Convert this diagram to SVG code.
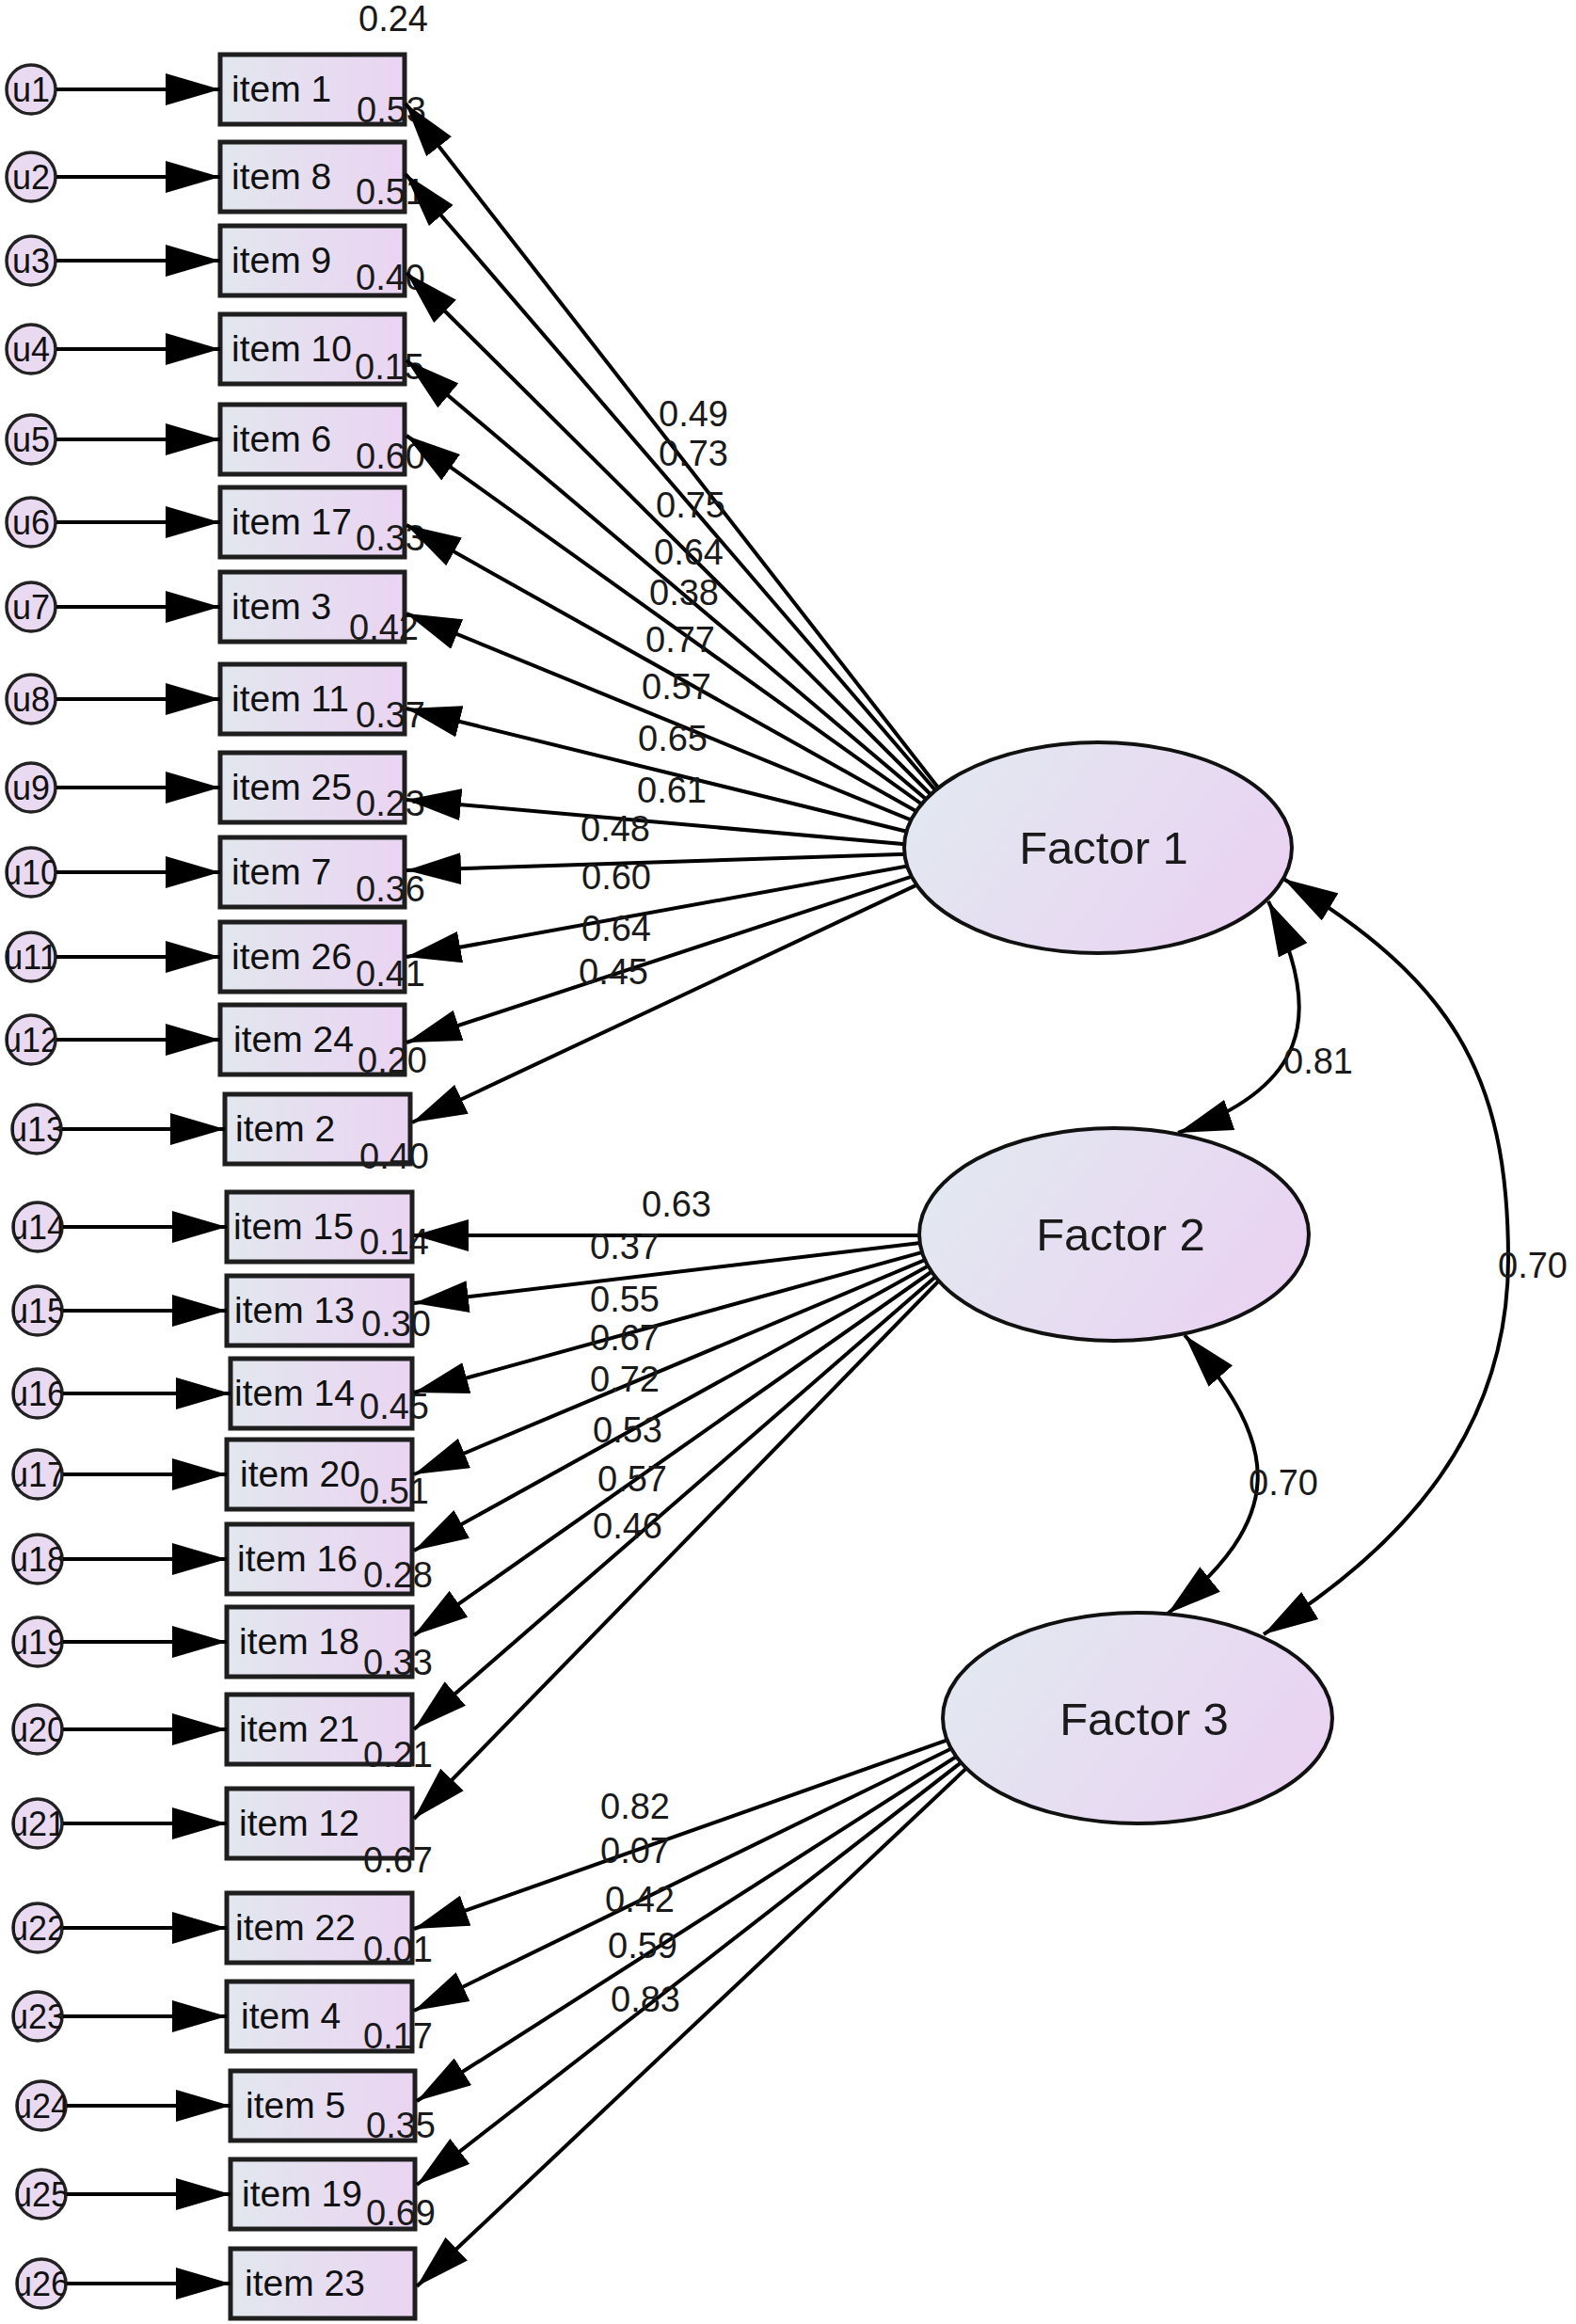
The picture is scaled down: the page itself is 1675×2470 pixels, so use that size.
<svg xmlns="http://www.w3.org/2000/svg" width="1675" height="2470" viewBox="0 0 1675 2470">
<style>
.bx{fill:url(#gbox);stroke:#1e1e1e;stroke-width:5}
.uc{fill:#e9d9f1;stroke:#222;stroke-width:3.5}
.fe{fill:url(#gell);stroke:#111;stroke-width:4}
.it{font-family:"Liberation Sans",Arial,sans-serif;font-size:39px;fill:#111}
.ut{font-family:"Liberation Sans",Arial,sans-serif;font-size:36px;fill:#111;text-anchor:middle}
.ft{font-family:"Liberation Sans",Arial,sans-serif;font-size:49px;fill:#1a1a1a;text-anchor:middle}
.lb{font-family:"Liberation Sans",Arial,sans-serif;font-size:38px;fill:#1a1a1a}
.cn line,.cn path{stroke:#000;stroke-width:4;fill:none;marker-end:url(#ah)}
.cn path.dbl{marker-start:url(#ah)}
</style>
<defs>
<linearGradient id="gbox" x1="0" y1="0" x2="1" y2="0"><stop offset="0" stop-color="#e2e7ee"/><stop offset="1" stop-color="#ead4f2"/></linearGradient>
<linearGradient id="gell" x1="0" y1="0.3" x2="1" y2="0.7"><stop offset="0" stop-color="#e2e8f0"/><stop offset="1" stop-color="#ead2f2"/></linearGradient>
<clipPath id="uclip"><circle cx="0" cy="0" r="26"/></clipPath>
<marker id="ah" viewBox="0 0 58 34" refX="58" refY="17" markerWidth="58" markerHeight="34" markerUnits="userSpaceOnUse" orient="auto-start-reverse"><path d="M0,0 L58,17 L0,34 z" fill="#000"/></marker>
</defs>
<rect width="1675" height="2470" fill="#fff"/>

<g id="items">
<g id="item1"><rect class="bx" x="234" y="58" width="196" height="74"/><text class="it" x="246" y="108">item 1</text></g>
<g id="item8"><rect class="bx" x="234" y="151" width="196" height="74"/><text class="it" x="246" y="201">item 8</text></g>
<g id="item9"><rect class="bx" x="234" y="240" width="196" height="74"/><text class="it" x="246" y="290">item 9</text></g>
<g id="item10"><rect class="bx" x="234" y="334" width="196" height="74"/><text class="it" x="246" y="384">item 10</text></g>
<g id="item6"><rect class="bx" x="234" y="430" width="196" height="74"/><text class="it" x="246" y="480">item 6</text></g>
<g id="item17"><rect class="bx" x="234" y="518" width="196" height="74"/><text class="it" x="246" y="568">item 17</text></g>
<g id="item3"><rect class="bx" x="234" y="608" width="196" height="74"/><text class="it" x="246" y="658">item 3</text></g>
<g id="item11"><rect class="bx" x="234" y="706" width="196" height="74"/><text class="it" x="246" y="756">item 11</text></g>
<g id="item25"><rect class="bx" x="234" y="800" width="196" height="74"/><text class="it" x="246" y="850">item 25</text></g>
<g id="item7"><rect class="bx" x="234" y="890" width="196" height="74"/><text class="it" x="246" y="940">item 7</text></g>
<g id="item26"><rect class="bx" x="234" y="980" width="196" height="74"/><text class="it" x="246" y="1030">item 26</text></g>
<g id="item24"><rect class="bx" x="234" y="1068" width="196" height="74"/><text class="it" x="248" y="1118">item 24</text></g>
<g id="item2"><rect class="bx" x="239" y="1163" width="197" height="74"/><text class="it" x="250" y="1213">item 2</text></g>
<g id="item15"><rect class="bx" x="241" y="1267" width="197" height="74"/><text class="it" x="248" y="1317">item 15</text></g>
<g id="item13"><rect class="bx" x="241" y="1356" width="197" height="74"/><text class="it" x="249" y="1406">item 13</text></g>
<g id="item14"><rect class="bx" x="245" y="1444" width="193" height="74"/><text class="it" x="249" y="1494">item 14</text></g>
<g id="item20"><rect class="bx" x="241" y="1530" width="197" height="74"/><text class="it" x="255" y="1580">item 20</text></g>
<g id="item16"><rect class="bx" x="241" y="1620" width="197" height="74"/><text class="it" x="252" y="1670">item 16</text></g>
<g id="item18"><rect class="bx" x="241" y="1708" width="197" height="74"/><text class="it" x="254" y="1758">item 18</text></g>
<g id="item21"><rect class="bx" x="241" y="1801" width="197" height="74"/><text class="it" x="254" y="1851">item 21</text></g>
<g id="item12"><rect class="bx" x="241" y="1901" width="197" height="74"/><text class="it" x="254" y="1951">item 12</text></g>
<g id="item22"><rect class="bx" x="241" y="2012" width="197" height="74"/><text class="it" x="250" y="2062">item 22</text></g>
<g id="item4"><rect class="bx" x="241" y="2106" width="197" height="74"/><text class="it" x="256" y="2156">item 4</text></g>
<g id="item5"><rect class="bx" x="245" y="2201" width="196" height="74"/><text class="it" x="261" y="2251">item 5</text></g>
<g id="item19"><rect class="bx" x="245" y="2295" width="196" height="74"/><text class="it" x="257" y="2345">item 19</text></g>
<g id="item23"><rect class="bx" x="245" y="2390" width="196" height="74"/><text class="it" x="260" y="2440">item 23</text></g>
</g>

<g id="errors">
<g id="u1" transform="translate(33,95)"><circle class="uc" r="26"/><text class="ut" y="13" clip-path="url(#uclip)">u1</text></g>
<g id="u2" transform="translate(33,188)"><circle class="uc" r="26"/><text class="ut" y="13" clip-path="url(#uclip)">u2</text></g>
<g id="u3" transform="translate(33,277)"><circle class="uc" r="26"/><text class="ut" y="13" clip-path="url(#uclip)">u3</text></g>
<g id="u4" transform="translate(33,371)"><circle class="uc" r="26"/><text class="ut" y="13" clip-path="url(#uclip)">u4</text></g>
<g id="u5" transform="translate(33,467)"><circle class="uc" r="26"/><text class="ut" y="13" clip-path="url(#uclip)">u5</text></g>
<g id="u6" transform="translate(33,555)"><circle class="uc" r="26"/><text class="ut" y="13" clip-path="url(#uclip)">u6</text></g>
<g id="u7" transform="translate(33,645)"><circle class="uc" r="26"/><text class="ut" y="13" clip-path="url(#uclip)">u7</text></g>
<g id="u8" transform="translate(33,743)"><circle class="uc" r="26"/><text class="ut" y="13" clip-path="url(#uclip)">u8</text></g>
<g id="u9" transform="translate(33,837)"><circle class="uc" r="26"/><text class="ut" y="13" clip-path="url(#uclip)">u9</text></g>
<g id="u10" transform="translate(33,927)"><circle class="uc" r="26"/><text class="ut" y="13" clip-path="url(#uclip)">u10</text></g>
<g id="u11" transform="translate(33,1017)"><circle class="uc" r="26"/><text class="ut" y="13" clip-path="url(#uclip)">u11</text></g>
<g id="u12" transform="translate(33,1105)"><circle class="uc" r="26"/><text class="ut" y="13" clip-path="url(#uclip)">u12</text></g>
<g id="u13" transform="translate(39,1200)"><circle class="uc" r="26"/><text class="ut" y="13" clip-path="url(#uclip)">u13</text></g>
<g id="u14" transform="translate(40,1304)"><circle class="uc" r="26"/><text class="ut" y="13" clip-path="url(#uclip)">u14</text></g>
<g id="u15" transform="translate(40,1393)"><circle class="uc" r="26"/><text class="ut" y="13" clip-path="url(#uclip)">u15</text></g>
<g id="u16" transform="translate(40,1481)"><circle class="uc" r="26"/><text class="ut" y="13" clip-path="url(#uclip)">u16</text></g>
<g id="u17" transform="translate(40,1567)"><circle class="uc" r="26"/><text class="ut" y="13" clip-path="url(#uclip)">u17</text></g>
<g id="u18" transform="translate(40,1657)"><circle class="uc" r="26"/><text class="ut" y="13" clip-path="url(#uclip)">u18</text></g>
<g id="u19" transform="translate(40,1745)"><circle class="uc" r="26"/><text class="ut" y="13" clip-path="url(#uclip)">u19</text></g>
<g id="u20" transform="translate(40,1838)"><circle class="uc" r="26"/><text class="ut" y="13" clip-path="url(#uclip)">u20</text></g>
<g id="u21" transform="translate(40,1938)"><circle class="uc" r="26"/><text class="ut" y="13" clip-path="url(#uclip)">u21</text></g>
<g id="u22" transform="translate(40,2049)"><circle class="uc" r="26"/><text class="ut" y="13" clip-path="url(#uclip)">u22</text></g>
<g id="u23" transform="translate(40,2143)"><circle class="uc" r="26"/><text class="ut" y="13" clip-path="url(#uclip)">u23</text></g>
<g id="u24" transform="translate(44,2238)"><circle class="uc" r="26"/><text class="ut" y="13" clip-path="url(#uclip)">u24</text></g>
<g id="u25" transform="translate(44,2332)"><circle class="uc" r="26"/><text class="ut" y="13" clip-path="url(#uclip)">u25</text></g>
<g id="u26" transform="translate(44,2427)"><circle class="uc" r="26"/><text class="ut" y="13" clip-path="url(#uclip)">u26</text></g>
</g>

<g id="variance-labels" class="lb">
<text class="lb" x="381" y="33">0.24</text>
<text class="lb" x="379" y="130">0.53</text>
<text class="lb" x="378" y="217">0.51</text>
<text class="lb" x="378" y="308">0.40</text>
<text class="lb" x="377" y="403">0.15</text>
<text class="lb" x="378" y="498">0.60</text>
<text class="lb" x="378" y="585">0.33</text>
<text class="lb" x="371" y="680">0.42</text>
<text class="lb" x="378" y="773">0.37</text>
<text class="lb" x="378" y="867">0.23</text>
<text class="lb" x="378" y="958">0.36</text>
<text class="lb" x="378" y="1048">0.41</text>
<text class="lb" x="380" y="1140">0.20</text>
<text class="lb" x="382" y="1242">0.40</text>
<text class="lb" x="382" y="1333">0.14</text>
<text class="lb" x="384" y="1420">0.30</text>
<text class="lb" x="382" y="1508">0.45</text>
<text class="lb" x="382" y="1598">0.51</text>
<text class="lb" x="386" y="1687">0.28</text>
<text class="lb" x="386" y="1780">0.33</text>
<text class="lb" x="386" y="1878">0.21</text>
<text class="lb" x="386" y="1990">0.67</text>
<text class="lb" x="386" y="2085">0.01</text>
<text class="lb" x="386" y="2177">0.17</text>
<text class="lb" x="389" y="2272">0.35</text>
<text class="lb" x="389" y="2365">0.69</text>
</g>

<g id="connectors" class="cn">
<line x1="60" y1="95" x2="234" y2="95"/>
<line x1="60" y1="188" x2="234" y2="188"/>
<line x1="60" y1="277" x2="234" y2="277"/>
<line x1="60" y1="371" x2="234" y2="371"/>
<line x1="60" y1="467" x2="234" y2="467"/>
<line x1="60" y1="555" x2="234" y2="555"/>
<line x1="60" y1="645" x2="234" y2="645"/>
<line x1="60" y1="743" x2="234" y2="743"/>
<line x1="60" y1="837" x2="234" y2="837"/>
<line x1="60" y1="927" x2="234" y2="927"/>
<line x1="60" y1="1017" x2="234" y2="1017"/>
<line x1="60" y1="1105" x2="234" y2="1105"/>
<line x1="66" y1="1200" x2="239" y2="1200"/>
<line x1="67" y1="1304" x2="241" y2="1304"/>
<line x1="67" y1="1393" x2="241" y2="1393"/>
<line x1="67" y1="1481" x2="245" y2="1481"/>
<line x1="67" y1="1567" x2="241" y2="1567"/>
<line x1="67" y1="1657" x2="241" y2="1657"/>
<line x1="67" y1="1745" x2="241" y2="1745"/>
<line x1="67" y1="1838" x2="241" y2="1838"/>
<line x1="67" y1="1938" x2="241" y2="1938"/>
<line x1="67" y1="2049" x2="241" y2="2049"/>
<line x1="67" y1="2143" x2="241" y2="2143"/>
<line x1="71" y1="2238" x2="245" y2="2238"/>
<line x1="71" y1="2332" x2="245" y2="2332"/>
<line x1="71" y1="2427" x2="245" y2="2427"/>

<line x1="1050" y1="905" x2="431" y2="110"/>
<line x1="1050" y1="905" x2="431" y2="185"/>
<line x1="1050" y1="905" x2="432" y2="290"/>
<line x1="1050" y1="905" x2="432" y2="383"/>
<line x1="1050" y1="905" x2="432" y2="463"/>
<line x1="1050" y1="905" x2="432" y2="558"/>
<line x1="1050" y1="905" x2="432" y2="652"/>
<line x1="1050" y1="905" x2="432" y2="753"/>
<line x1="1050" y1="905" x2="432" y2="850"/>
<line x1="1050" y1="905" x2="432" y2="925"/>
<line x1="1050" y1="905" x2="432" y2="1017"/>
<line x1="1050" y1="905" x2="432" y2="1108"/>
<line x1="1050" y1="905" x2="438" y2="1193"/>

<line x1="1045" y1="1313" x2="440" y2="1313"/>
<line x1="1045" y1="1313" x2="440" y2="1385"/>
<line x1="1045" y1="1313" x2="440" y2="1480"/>
<line x1="1045" y1="1313" x2="440" y2="1567"/>
<line x1="1045" y1="1313" x2="440" y2="1648"/>
<line x1="1045" y1="1313" x2="440" y2="1738"/>
<line x1="1045" y1="1313" x2="440" y2="1838"/>
<line x1="1045" y1="1313" x2="440" y2="1933"/>

<line x1="1090" y1="1820" x2="440" y2="2050"/>
<line x1="1090" y1="1820" x2="440" y2="2137"/>
<line x1="1090" y1="1820" x2="443" y2="2233"/>
<line x1="1090" y1="1820" x2="443" y2="2322"/>
<line x1="1090" y1="1820" x2="443" y2="2430"/>

<path class="dbl" d="M1348,958 C1412,1085 1384,1158 1252,1204"/>
<path class="dbl" d="M1259,1419 C1365,1539 1366,1614 1241,1715"/>
<path class="dbl" d="M1364,934 C1540,1040 1603,1138 1603,1338 C1603,1518 1496,1642 1343,1737"/>
</g>

<g id="factor1"><ellipse class="fe" cx="1167" cy="901" rx="206" ry="112"/><text class="ft" x="1173" y="918">Factor 1</text></g>
<g id="factor2"><ellipse class="fe" cx="1184" cy="1312" rx="207" ry="113"/><text class="ft" x="1191" y="1329">Factor 2</text></g>
<g id="factor3"><ellipse class="fe" cx="1209" cy="1826" rx="207" ry="112"/><text class="ft" x="1216" y="1844">Factor 3</text></g>

<g id="path-labels">
<text class="lb" x="700" y="453">0.49</text>
<text class="lb" x="700" y="495">0.73</text>
<text class="lb" x="697" y="550">0.75</text>
<text class="lb" x="695" y="600">0.64</text>
<text class="lb" x="690" y="643">0.38</text>
<text class="lb" x="686" y="693">0.77</text>
<text class="lb" x="682" y="743">0.57</text>
<text class="lb" x="678" y="798">0.65</text>
<text class="lb" x="677" y="853">0.61</text>
<text class="lb" x="617" y="894">0.48</text>
<text class="lb" x="618" y="945">0.60</text>
<text class="lb" x="618" y="1000">0.64</text>
<text class="lb" x="615" y="1046">0.45</text>
<text class="lb" x="682" y="1293">0.63</text>
<text class="lb" x="627" y="1338">0.37</text>
<text class="lb" x="627" y="1394">0.55</text>
<text class="lb" x="627" y="1435">0.67</text>
<text class="lb" x="627" y="1479">0.72</text>
<text class="lb" x="630" y="1533">0.53</text>
<text class="lb" x="635" y="1585">0.57</text>
<text class="lb" x="630" y="1635">0.46</text>
<text class="lb" x="638" y="1933">0.82</text>
<text class="lb" x="638" y="1980">0.07</text>
<text class="lb" x="643" y="2032">0.42</text>
<text class="lb" x="646" y="2081">0.59</text>
<text class="lb" x="649" y="2138">0.83</text>
<text class="lb" x="1364" y="1141">0.81</text>
<text class="lb" x="1592" y="1358">0.70</text>
<text class="lb" x="1327" y="1589">0.70</text>
</g>
</svg>
